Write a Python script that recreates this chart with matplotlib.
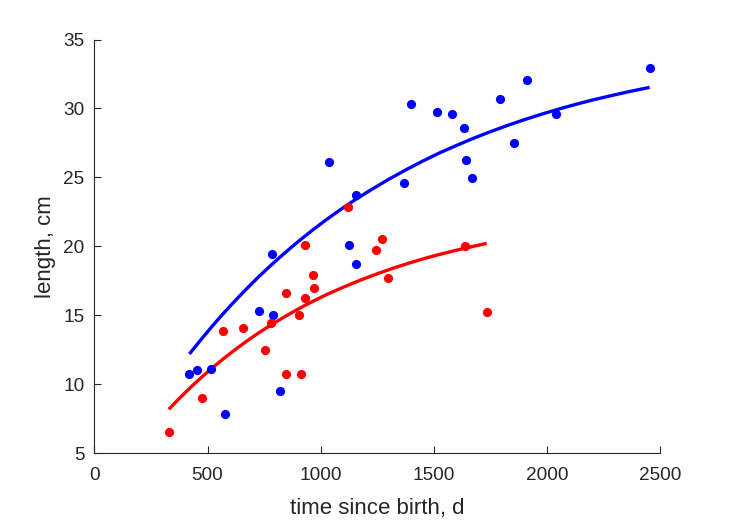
import numpy as np
import matplotlib.pyplot as plt

plt.rcParams['font.family'] = ['Liberation Sans', 'DejaVu Sans']

# 散点数据
blue_t = [420, 454, 514, 576, 729, 785, 788, 820, 1035, 1125, 1155, 1156,
          1369, 1398, 1515, 1580, 1634, 1642, 1670, 1791, 1855, 1913, 2038, 2453]
blue_len = [10.73, 11.02, 11.09, 7.87, 15.34, 19.43, 15.01, 9.54, 26.14, 20.12,
            23.71, 18.70, 24.62, 30.30, 29.72, 29.60, 28.58, 26.24, 24.98, 30.67,
            27.52, 32.09, 29.60, 32.96]

red_t = [329, 477, 569, 657, 754, 782, 845, 845, 903, 912, 932, 932, 966, 969,
         1122, 1244, 1271, 1296, 1637, 1733]
red_len = [6.52, 9.03, 13.87, 14.06, 12.51, 14.45, 16.64, 10.73, 15.05, 10.73,
           20.12, 16.24, 17.91, 16.98, 22.88, 19.76, 20.56, 17.71, 20.05, 15.27]

# 拟合曲线（沿曲线读点）
blue_fit_t = [420, 470, 520, 570, 620, 670, 720, 770, 820, 870, 920, 970, 1020,
              1085, 1150, 1225, 1300, 1375, 1450, 1525, 1600, 1675, 1750, 1825,
              1900, 1975, 2050, 2125, 2200, 2275, 2350, 2453]
blue_fit_len = [12.20, 13.22, 14.20, 15.14, 16.03, 16.88, 17.70, 18.48, 19.22,
                19.93, 20.61, 21.26, 21.88, 22.64, 23.36, 24.13, 24.86, 25.54,
                26.18, 26.78, 27.32, 27.84, 28.32, 28.77, 29.19, 29.58, 29.95,
                30.29, 30.61, 30.90, 31.18, 31.53]

red_fit_t = [329, 379, 429, 479, 529, 579, 629, 679, 729, 779, 829, 879, 929,
             979, 1029, 1104, 1179, 1254, 1329, 1404, 1479, 1554, 1629, 1733]
red_fit_len = [8.19, 9.04, 9.84, 10.59, 11.30, 11.97, 12.60, 13.20, 13.76, 14.29,
               14.79, 15.26, 15.71, 16.13, 16.53, 17.07, 17.58, 18.04, 18.47,
               18.86, 19.22, 19.54, 19.84, 20.22]

txt = '#262626'

fig = plt.figure(figsize=(7.29, 5.21), dpi=100)
ax = fig.add_axes([94.3 / 729, 1 - 453.3 / 521, (660.3 - 94.3) / 729, (453.3 - 39.5) / 521])

ax.plot(blue_fit_t, blue_fit_len, color='#0000ff', linewidth=2.4, solid_capstyle='butt')
ax.plot(red_fit_t, red_fit_len, color='#ff0000', linewidth=2.4, solid_capstyle='butt')
ax.plot(blue_t, blue_len, 'o', color='#0000ff', markersize=6.6, markeredgewidth=0)
ax.plot(red_t, red_len, 'o', color='#ff0000', markersize=6.6, markeredgewidth=0)

ax.set_xlim(0, 2500)
ax.set_ylim(5, 35)
ax.set_xticks(np.arange(0, 2501, 500))
ax.set_yticks(np.arange(5, 36, 5))

for s in ['top', 'right']:
    ax.spines[s].set_visible(False)
for s in ['left', 'bottom']:
    ax.spines[s].set_color(txt)
    ax.spines[s].set_linewidth(0.8)

ax.tick_params(direction='in', length=5, width=0.8, colors=txt, labelsize=13.7)
ax.tick_params(axis='x', pad=10)
ax.tick_params(axis='y', pad=7)
ax.set_xlabel('time since birth, d', fontsize=16, color=txt, labelpad=10)
ax.set_ylabel('length, cm', fontsize=16, color=txt, labelpad=5)

fig.savefig('out.png', dpi=100)
